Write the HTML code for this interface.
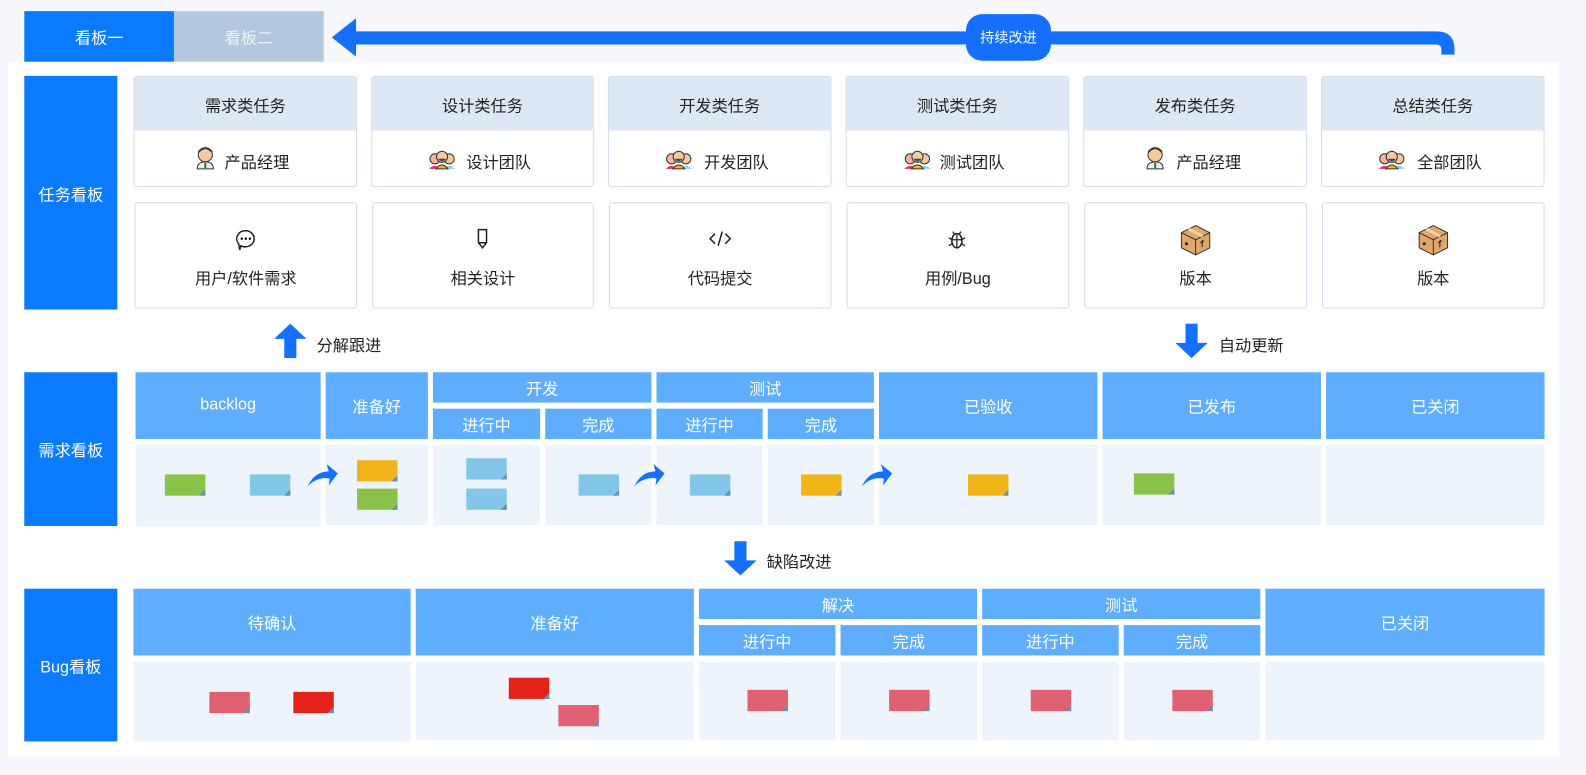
<!DOCTYPE html>
<html><head><meta charset="utf-8">
<style>
*{margin:0;padding:0;box-sizing:border-box}
body{width:1586px;height:775px;background:#f6f8fd;position:relative;overflow:hidden;font-family:"Liberation Sans","Noto Sans CJK SC",sans-serif}
#w{position:absolute;left:0;top:0;width:1568px;height:766px;transform:scale(1.0115);transform-origin:0 0}
.a{position:absolute}
.c{display:flex;align-items:center;justify-content:center}
.lab{background:#0a7bff;color:#fff;font-size:16px}
.hd{background:#5eaefd;color:#fff;font-size:16px}
.bd{background:#eef4fc}
.card{background:#fff;border:1px solid #cfdcea;border-radius:3px}
.note{position:absolute;width:40px;height:21px}
.note:after{content:"";position:absolute;right:0;bottom:0;width:6px;height:6px;background:linear-gradient(135deg,transparent 50%,#6c8fb0 50%)}
.g{background:#8bc34a}.b{background:#82c6ec}.o{background:#f2b519}.p{background:#df6172}.r{background:#e52219}
.t{font-size:16px;color:#222}
</style></head><body><div id="w">
<div class="a" style="left:8px;top:61px;width:1533px;height:687px;background:#fff"></div>
<div class="a c" style="left:24px;top:11px;width:148px;height:50px;background:#0a7bff;color:#fff;font-size:16px">看板一</div>
<div class="a c" style="left:172px;top:11px;width:148px;height:50px;background:#b3c8de;color:#eef3f8;font-size:16px">看板二</div>
<svg class="a" style="left:320px;top:10px" width="1130" height="50">
<path d="M8 27 L32 8 L32 21 L1100 21 Q1118 21 1118 39 L1118 44 L1105 44 L1105 39 Q1105 34 1100 34 L32 34 L32 46 Z" fill="#1570ff"/>
</svg>
<div class="a c" style="left:955px;top:14px;width:84px;height:46px;background:#1570ff;border-radius:16px;color:#fff;font-size:14px">持续改进</div>
<div class="a c lab" style="left:24px;top:75px;width:92px;height:231px">任务看板</div>

<div class="a card" style="left:132px;top:75px;width:221px;height:110px"></div>
<div class="a card" style="left:367px;top:75px;width:220px;height:110px"></div>
<div class="a card" style="left:601px;top:75px;width:221px;height:110px"></div>
<div class="a card" style="left:836px;top:75px;width:221px;height:110px"></div>
<div class="a card" style="left:1071px;top:75px;width:221px;height:110px"></div>
<div class="a card" style="left:1306px;top:75px;width:221px;height:110px"></div>
<div class="a c t" style="left:133px;top:76px;width:219px;height:53px;background:#dde8f4">需求类任务</div>
<div class="a c t" style="left:368px;top:76px;width:218px;height:53px;background:#dde8f4">设计类任务</div>
<div class="a c t" style="left:602px;top:76px;width:219px;height:53px;background:#dde8f4">开发类任务</div>
<div class="a c t" style="left:837px;top:76px;width:219px;height:53px;background:#dde8f4">测试类任务</div>
<div class="a c t" style="left:1072px;top:76px;width:219px;height:53px;background:#dde8f4">发布类任务</div>
<div class="a c t" style="left:1307px;top:76px;width:219px;height:53px;background:#dde8f4">总结类任务</div>

<svg width="0" height="0" style="position:absolute"><defs>
<g id="pm"><circle cx="11" cy="9" r="7" fill="#f6c9a0" stroke="#333"/><path d="M4 8 Q11 -1 18 8 L18 5 Q11 0 4 5Z" fill="#333"/><path d="M3 23 Q3 16 11 16 Q19 16 19 23Z" fill="#eee" stroke="#333"/><rect x="10" y="17" width="2" height="6" fill="#2a7a4a"/></g>
<g id="team"><circle cx="6" cy="10" r="5" fill="#f5b39a" stroke="#333"/><circle cx="20" cy="10" r="5" fill="#f5c9a0" stroke="#333"/><path d="M0 20 Q6 14 12 20Z" fill="#e0306a"/><path d="M14 20 Q20 14 26 20Z" fill="#8ed0e8"/><circle cx="13" cy="8" r="5.5" fill="#f6c9a0" stroke="#333"/><path d="M7 20 Q13 12 19 20Z" fill="#f4b21a" stroke="#333"/><path d="M9 10 Q13 15 17 10" fill="#444"/></g>
<g id="box"><path d="M16 2 L30 9 L30 24 L16 31 L2 24 L2 9Z" fill="#e3a66a" stroke="#333"/><path d="M2 9 L16 16 L30 9 M16 16 L16 31" fill="none" stroke="#333"/><path d="M9 5.5 L23 12.5" stroke="#f3d3a8" stroke-width="3"/><circle cx="7" cy="20" r="1.5" fill="#222"/><path d="M22 24 L22 19 L20 20 L23 16 L25 18 L23 18 L23 23Z" fill="#222"/></g>
</defs></svg>
<svg class="a" style="left:192px;top:144px" width="22" height="24"><use href="#pm"/></svg>
<div class="a t" style="left:222px;top:147px">产品经理</div>
<svg class="a" style="left:424px;top:147px" width="27" height="21"><use href="#team"/></svg>
<div class="a t" style="left:461px;top:147px">设计团队</div>
<svg class="a" style="left:658px;top:147px" width="27" height="21"><use href="#team"/></svg>
<div class="a t" style="left:696px;top:147px">开发团队</div>
<svg class="a" style="left:894px;top:147px" width="27" height="21"><use href="#team"/></svg>
<div class="a t" style="left:929px;top:147px">测试团队</div>
<svg class="a" style="left:1131px;top:144px" width="22" height="24"><use href="#pm"/></svg>
<div class="a t" style="left:1163px;top:147px">产品经理</div>
<svg class="a" style="left:1363px;top:147px" width="27" height="21"><use href="#team"/></svg>
<div class="a t" style="left:1401px;top:147px">全部团队</div>

<div class="a card" style="left:133px;top:200px;width:220px;height:105px"></div>
<div class="a card" style="left:368px;top:200px;width:219px;height:105px"></div>
<div class="a card" style="left:602px;top:200px;width:220px;height:105px"></div>
<div class="a card" style="left:837px;top:200px;width:220px;height:105px"></div>
<div class="a card" style="left:1072px;top:200px;width:220px;height:105px"></div>
<div class="a card" style="left:1307px;top:200px;width:220px;height:105px"></div>
<svg class="a" style="left:232px;top:226px" width="22" height="22"><path d="M11 2 A9 8 0 1 1 6 17 L5 21 L4 15 A9 8 0 0 1 11 2Z" fill="none" stroke="#222" stroke-width="1.5"/><circle cx="7" cy="10" r="1.2"/><circle cx="11" cy="10" r="1.2"/><circle cx="15" cy="10" r="1.2"/></svg>
<svg class="a" style="left:470px;top:225px" width="14" height="22"><path d="M3 2 H11 V15 L7 20 L3 15Z M3 15 H11" fill="none" stroke="#222" stroke-width="1.5"/></svg>
<svg class="a" style="left:701px;top:227px" width="22" height="18"><path d="M6 4 L1 9 L6 14 M16 4 L21 9 L16 14 M13 2 L9 16" fill="none" stroke="#222" stroke-width="1.5"/></svg>
<svg class="a" style="left:937px;top:225px" width="18" height="22"><ellipse cx="9" cy="13" rx="5" ry="7" fill="none" stroke="#222" stroke-width="1.5"/><path d="M4 12 H14 M9 7 V20 M5 4 L7 7 M13 4 L11 7 M1 10 L4 12 M17 10 L14 12 M1 18 L4 16 M17 18 L14 16" stroke="#222" stroke-width="1.3" fill="none"/></svg>
<svg class="a" style="left:1166px;top:221px" width="32" height="33"><use href="#box"/></svg>
<svg class="a" style="left:1401px;top:221px" width="32" height="33"><use href="#box"/></svg>
<div class="a c t" style="left:133px;top:262px;width:220px">用户/软件需求</div>
<div class="a c t" style="left:368px;top:262px;width:219px">相关设计</div>
<div class="a c t" style="left:602px;top:262px;width:220px">代码提交</div>
<div class="a c t" style="left:837px;top:262px;width:220px">用例/Bug</div>
<div class="a c t" style="left:1072px;top:262px;width:220px">版本</div>
<div class="a c t" style="left:1307px;top:262px;width:220px">版本</div>

<svg class="a" style="left:271px;top:320px" width="32" height="34"><path d="M16 0 L32 15 L22 15 L22 34 L10 34 L10 15 L0 15Z" fill="#1570ff"/></svg>
<div class="a t" style="left:313px;top:328px">分解跟进</div>
<svg class="a" style="left:1162px;top:320px" width="32" height="34"><path d="M16 34 L32 19 L22 19 L22 0 L10 0 L10 19 L0 19Z" fill="#1570ff"/></svg>
<div class="a t" style="left:1205px;top:328px">自动更新</div>

<div class="a c lab" style="left:24px;top:368px;width:92px;height:152px">需求看板</div>
<div class="a c hd" style="left:134px;top:368px;width:183px;height:66px">backlog</div>
<div class="a c hd" style="left:322px;top:368px;width:101px;height:66px">准备好</div>
<div class="a c hd" style="left:428px;top:368px;width:216px;height:30px">开发</div>
<div class="a c hd" style="left:428px;top:404px;width:106px;height:30px">进行中</div>
<div class="a c hd" style="left:539px;top:404px;width:105px;height:30px">完成</div>
<div class="a c hd" style="left:649px;top:368px;width:215px;height:30px">测试</div>
<div class="a c hd" style="left:649px;top:404px;width:105px;height:30px">进行中</div>
<div class="a c hd" style="left:759px;top:404px;width:105px;height:30px">完成</div>
<div class="a c hd" style="left:869px;top:368px;width:216px;height:66px">已验收</div>
<div class="a c hd" style="left:1090px;top:368px;width:216px;height:66px">已发布</div>
<div class="a c hd" style="left:1311px;top:368px;width:216px;height:66px">已关闭</div>
<div class="a bd" style="left:134px;top:440px;width:183px;height:80px"></div>
<div class="a bd" style="left:322px;top:440px;width:101px;height:79px"></div>
<div class="a bd" style="left:428px;top:440px;width:106px;height:79px"></div>
<div class="a bd" style="left:539px;top:440px;width:105px;height:79px"></div>
<div class="a bd" style="left:649px;top:440px;width:105px;height:79px"></div>
<div class="a bd" style="left:759px;top:440px;width:105px;height:79px"></div>
<div class="a bd" style="left:869px;top:440px;width:216px;height:79px"></div>
<div class="a bd" style="left:1090px;top:440px;width:216px;height:79px"></div>
<div class="a bd" style="left:1311px;top:440px;width:216px;height:79px"></div>
<div class="note g" style="left:163px;top:469px"></div>
<div class="note b" style="left:247px;top:469px"></div>
<div class="note o" style="left:353px;top:455px"></div>
<div class="note g" style="left:353px;top:483px"></div>
<div class="note b" style="left:461px;top:453px"></div>
<div class="note b" style="left:461px;top:483px"></div>
<div class="note b" style="left:572px;top:469px"></div>
<div class="note b" style="left:682px;top:469px"></div>
<div class="note o" style="left:792px;top:469px"></div>
<div class="note o" style="left:957px;top:469px"></div>
<div class="note g" style="left:1121px;top:468px"></div>
<svg class="a" style="left:303px;top:456px" width="32" height="26"><path d="M1 25 Q8 10 22 10 L20 3 L31 12 L22 24 L23 17 Q10 15 1 25Z" fill="#1570ff"/></svg>
<svg class="a" style="left:626px;top:456px" width="32" height="26"><path d="M1 25 Q8 10 22 10 L20 3 L31 12 L22 24 L23 17 Q10 15 1 25Z" fill="#1570ff"/></svg>
<svg class="a" style="left:851px;top:456px" width="32" height="26"><path d="M1 25 Q8 10 22 10 L20 3 L31 12 L22 24 L23 17 Q10 15 1 25Z" fill="#1570ff"/></svg>

<svg class="a" style="left:716px;top:535px" width="32" height="34"><path d="M16 34 L32 19 L22 19 L22 0 L10 0 L10 19 L0 19Z" fill="#1570ff"/></svg>
<div class="a t" style="left:758px;top:542px">缺陷改进</div>

<div class="a c lab" style="left:24px;top:582px;width:92px;height:151px">Bug看板</div>
<div class="a c hd" style="left:132px;top:582px;width:274px;height:66px">待确认</div>
<div class="a c hd" style="left:411px;top:582px;width:275px;height:66px">准备好</div>
<div class="a c hd" style="left:691px;top:582px;width:275px;height:30px">解决</div>
<div class="a c hd" style="left:691px;top:618px;width:135px;height:30px">进行中</div>
<div class="a c hd" style="left:831px;top:618px;width:135px;height:30px">完成</div>
<div class="a c hd" style="left:971px;top:582px;width:275px;height:30px">测试</div>
<div class="a c hd" style="left:971px;top:618px;width:135px;height:30px">进行中</div>
<div class="a c hd" style="left:1111px;top:618px;width:135px;height:30px">完成</div>
<div class="a c hd" style="left:1251px;top:582px;width:276px;height:66px">已关闭</div>
<div class="a bd" style="left:132px;top:654px;width:274px;height:79px"></div>
<div class="a bd" style="left:411px;top:654px;width:275px;height:78px"></div>
<div class="a bd" style="left:691px;top:654px;width:135px;height:78px"></div>
<div class="a bd" style="left:831px;top:654px;width:135px;height:78px"></div>
<div class="a bd" style="left:971px;top:654px;width:135px;height:78px"></div>
<div class="a bd" style="left:1111px;top:654px;width:135px;height:78px"></div>
<div class="a bd" style="left:1251px;top:654px;width:276px;height:78px"></div>
<div class="note p" style="left:207px;top:684px"></div>
<div class="note r" style="left:290px;top:684px"></div>
<div class="note r" style="left:503px;top:670px"></div>
<div class="note p" style="left:552px;top:697px"></div>
<div class="note p" style="left:739px;top:682px"></div>
<div class="note p" style="left:879px;top:682px"></div>
<div class="note p" style="left:1019px;top:682px"></div>
<div class="note p" style="left:1159px;top:682px"></div>
</div></body></html>
